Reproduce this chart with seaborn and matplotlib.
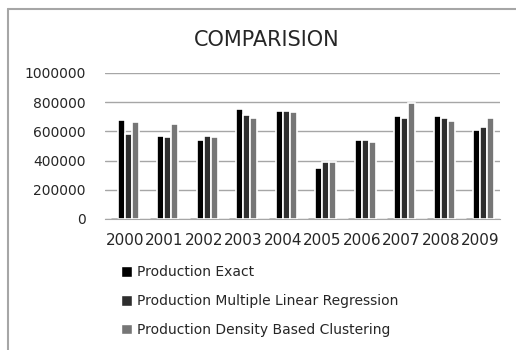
import numpy as np
import pandas as pd
import matplotlib
matplotlib.use("Agg")
import matplotlib.pyplot as plt
from matplotlib.patches import Patch
from matplotlib.lines import Line2D
import seaborn as sns

# values
years = [2000, 2001, 2002, 2003, 2004, 2005, 2006, 2007, 2008, 2009]
exact = [680000, 571000, 543000, 756000, 742000, 352000, 543000, 708000, 708000, 612000]
mlr = [584000, 564000, 571000, 715000, 742000, 393000, 543000, 694000, 694000, 632000]
dbc = [662000, 653000, 564000, 694000, 735000, 393000, 530000, 792000, 674000, 694000]

series = ["Year", "Production Exact", "Production Multiple Linear Regression",
          "Production Density Based Clustering"]
colors = ["#000000", "#000000", "#2e2e2e", "#767676"]

df = pd.DataFrame({
    "Year": [str(y) for y in years] * 4,
    "Series": np.repeat(series, len(years)),
    "Value": years + exact + mlr + dbc,
})

sns.set_style("white")
plt.rcParams["font.family"] = ["DejaVu Sans"]

fig = plt.figure(figsize=(5.16, 3.5), dpi=100)
ax = fig.add_axes([105 / 516, 1 - 219 / 350, 395 / 516, 146 / 350])

sns.barplot(data=df, x="Year", y="Value", hue="Series", hue_order=series,
            palette=colors, width=0.72, edgecolor="white", linewidth=1.2,
            legend=False, ax=ax)

# the "Year" series is tiny on this scale; let its edge show it as a thin line
for bar in ax.containers[0]:
    bar.set_edgecolor("#000000")
    bar.set_linewidth(1.0)
    bar.set_zorder(4)

ax.set_ylim(0, 1000000)
ax.set_xlim(-0.5, 9.5)
ax.set_yticks(range(0, 1000001, 200000))
ax.set_yticklabels([str(v) for v in range(0, 1000001, 200000)], fontsize=10)
ax.tick_params(axis="x", labelsize=11, pad=10, length=0)
ax.tick_params(axis="y", pad=14, length=0)
ax.set_xlabel("")
ax.set_ylabel("")
ax.yaxis.grid(True, color="#a6a6a6", linewidth=1)
ax.set_axisbelow(True)
for s in ["top", "right", "left"]:
    ax.spines[s].set_visible(False)
ax.spines["bottom"].set_color("#a6a6a6")
ax.spines["bottom"].set_zorder(0.5)

fig.text(267 / 516, 1 - 40 / 350, "COMPARISION", fontsize=15,
         ha="center", va="center")

handles = [Patch(facecolor=c) for c in colors[1:]]
fig.legend(handles, series[1:], loc="upper left",
           bbox_to_anchor=(108 / 516, 1 - 253 / 350), frameon=False,
           fontsize=10, handlelength=0.8, handleheight=0.8,
           handletextpad=0.4, labelspacing=1.05)

# chart frame: only left and top edges are in view
fig.add_artist(Line2D([8 / 516, 8 / 516], [0, 1 - 9 / 350],
                      transform=fig.transFigure, color="#a6a6a6", linewidth=1.5))
fig.add_artist(Line2D([8 / 516, 1], [1 - 9 / 350, 1 - 9 / 350],
                      transform=fig.transFigure, color="#a6a6a6", linewidth=1.5))

fig.savefig("out.png", dpi=100)
